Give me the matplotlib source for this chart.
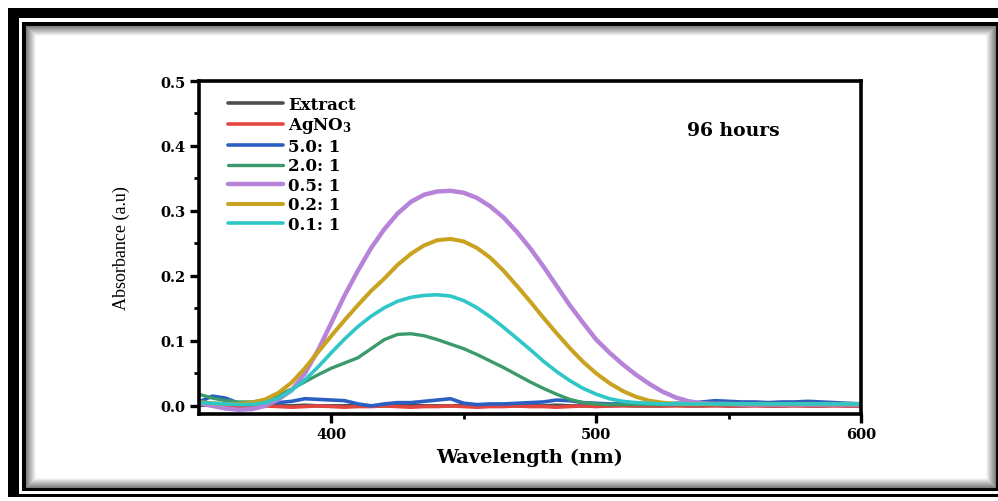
import matplotlib
matplotlib.use("Agg")
import matplotlib.pyplot as plt
from matplotlib.patches import Rectangle
import numpy as np

# wavelength grid (nm) and absorbance readings per sample
wavelength = np.arange(350, 601, 5)

extract = [0.001, 0.001, 0.000, 0.000, 0.000, 0.001, 0.000, 0.000, 0.001, 0.000, 0.000,
           0.000, 0.001, 0.000, 0.000, 0.000, 0.001, 0.000, 0.000, 0.000, 0.001,
           0.000, 0.000, 0.001, 0.000, 0.000, 0.000, 0.001, 0.000, 0.000, 0.000,
           0.000, 0.001, 0.000, 0.000, 0.000, 0.001, 0.000, 0.000, 0.001, 0.000,
           0.000, 0.001, 0.000, 0.000, 0.001, 0.000, 0.000, 0.001, 0.000, 0.000]
agno3 = [0.003, 0.001, 0.000, -0.001, -0.001, 0.000, -0.001, -0.002, -0.001, 0.000, -0.001,
         -0.002, -0.001, -0.001, 0.000, -0.001, -0.002, -0.001, -0.001, 0.000, -0.001,
         -0.002, -0.001, -0.001, 0.000, -0.001, -0.001, -0.002, -0.001, 0.000, -0.001,
         0.000, 0.000, 0.000, 0.000, 0.000, 0.000, 0.000, 0.000, 0.000, 0.000,
         0.000, 0.000, 0.000, 0.000, 0.000, 0.000, 0.000, 0.000, 0.000, 0.000]
r50 = [0.006, 0.015, 0.012, 0.004, 0.004, 0.006, 0.005, 0.007, 0.011, 0.010, 0.009,
       0.008, 0.003, 0.000, 0.003, 0.005, 0.005, 0.007, 0.009, 0.011, 0.004,
       0.002, 0.003, 0.003, 0.004, 0.005, 0.006, 0.009, 0.008, 0.005, 0.004,
       0.003, 0.003, 0.004, 0.003, 0.003, 0.004, 0.004, 0.006, 0.008, 0.007,
       0.006, 0.006, 0.005, 0.006, 0.006, 0.007, 0.006, 0.005, 0.004, 0.003]
r20 = [0.018, 0.012, 0.008, 0.006, 0.006, 0.009, 0.016, 0.026, 0.037, 0.048, 0.058,
       0.066, 0.074, 0.088, 0.102, 0.110, 0.111, 0.108, 0.102, 0.095, 0.088,
       0.079, 0.069, 0.059, 0.048, 0.037, 0.027, 0.018, 0.010, 0.005, 0.003,
       0.002, 0.002, 0.002, 0.002, 0.002, 0.002, 0.002, 0.002, 0.002, 0.002,
       0.002, 0.002, 0.002, 0.002, 0.002, 0.002, 0.002, 0.002, 0.002, 0.002]
r05 = [0.004, 0.000, -0.004, -0.006, -0.005, 0.000, 0.010, 0.024, 0.050, 0.086, 0.128,
       0.170, 0.208, 0.243, 0.272, 0.296, 0.314, 0.325, 0.330, 0.331, 0.328,
       0.320, 0.307, 0.290, 0.268, 0.243, 0.215, 0.185, 0.155, 0.128, 0.102,
       0.082, 0.064, 0.048, 0.034, 0.022, 0.013, 0.007, 0.004, 0.003, 0.003,
       0.002, 0.002, 0.002, 0.002, 0.002, 0.002, 0.002, 0.002, 0.002, 0.002]
r02 = [0.006, 0.004, 0.003, 0.003, 0.005, 0.010, 0.020, 0.036, 0.058, 0.083, 0.108,
       0.132, 0.155, 0.177, 0.196, 0.217, 0.234, 0.247, 0.255, 0.257, 0.253,
       0.243, 0.228, 0.208, 0.185, 0.161, 0.136, 0.112, 0.089, 0.068, 0.050,
       0.035, 0.023, 0.014, 0.008, 0.005, 0.003, 0.003, 0.003, 0.003, 0.003,
       0.003, 0.003, 0.003, 0.003, 0.003, 0.003, 0.003, 0.003, 0.003, 0.003]
r01 = [0.005, 0.004, 0.003, 0.002, 0.002, 0.005, 0.012, 0.024, 0.040, 0.060, 0.082,
       0.103, 0.122, 0.138, 0.151, 0.161, 0.167, 0.170, 0.171, 0.169, 0.162,
       0.151, 0.137, 0.121, 0.104, 0.087, 0.069, 0.053, 0.039, 0.027, 0.018,
       0.011, 0.007, 0.005, 0.004, 0.003, 0.003, 0.003, 0.003, 0.003, 0.003,
       0.003, 0.003, 0.003, 0.003, 0.003, 0.003, 0.003, 0.003, 0.003, 0.003]

labels = ["Extract", r"AgNO$_\mathbf{3}$", "5.0: 1", "2.0: 1", "0.5: 1", "0.2: 1", "0.1: 1"]
series = [extract, agno3, r50, r20, r05, r02, r01]
colors = ["#4d4d4d", "#e2463f", "#2b5fc2", "#3b9a6b", "#b683d9", "#c9a21f", "#2ec6c6"]
widths = [2.6, 2.6, 2.6, 2.4, 3.2, 2.9, 2.6]

plt.rcParams['mathtext.fontset'] = 'dejavuserif'

W, H = 998, 502
fig = plt.figure(figsize=(W / 100, H / 100), dpi=100)
fig.patch.set_facecolor("white")


def px_rect(x0, y0, x1, y1, **kw):
    # rectangle given in top-down pixel coordinates, kept behind the axes
    return Rectangle((x0 / W, 1 - y1 / H), (x1 - x0) / W, (y1 - y0) / H,
                     transform=fig.transFigure, zorder=-10, **kw)


# outer black band + inner framed panel with soft shadow
fig.patches.append(px_rect(8, 9, 1000, 498, facecolor="black", edgecolor="none"))
fig.patches.append(px_rect(19, 19, 1000, 495, facecolor="white", edgecolor="none"))
fig.patches.append(px_rect(22, 23, 998, 492, facecolor="black", edgecolor="none"))
fig.patches.append(px_rect(26, 27, 995, 488, facecolor="white", edgecolor="none"))
for i in range(10):
    g = 0.5 + 0.052 * i
    fig.patches.append(px_rect(26 + i, 27 + i, 995 - i, 488 - i, facecolor="none",
                               edgecolor=(g, g, g), linewidth=0.8))

ax = fig.add_axes([199 / W, 1 - 415 / H, (861 - 199) / W, (415 - 82) / H])
ax.set_facecolor("white")

for y, lab, c, lw in zip(series, labels, colors, widths):
    ax.plot(wavelength, y, color=c, lw=lw, label=lab, solid_capstyle='round')

ax.set_xlim(350, 600)
ax.set_ylim(-0.0125, 0.5)
ax.set_xticks([400, 500, 600])
ax.set_xticks([450, 550], minor=True)
ax.set_yticks([0.0, 0.1, 0.2, 0.3, 0.4, 0.5])
ax.set_yticks([0.05, 0.15, 0.25, 0.35, 0.45], minor=True)
ax.set_yticklabels(["0.0", "0.1", "0.2", "0.3", "0.4", "0.5"])

for s in ax.spines.values():
    s.set_linewidth(2.6)
ax.tick_params(which='major', direction='out', length=6.5, width=2.4, top=False, right=False)
ax.tick_params(which='minor', direction='out', length=3.5, width=2.0, top=False, right=False)
ax.tick_params(axis='y', pad=3)
ax.tick_params(axis='x', pad=3)

for t in ax.get_xticklabels() + ax.get_yticklabels():
    t.set_fontfamily('DejaVu Serif')
    t.set_fontweight('bold')
    t.set_fontsize(10.5)

ax.set_xlabel("Wavelength (nm)", family='DejaVu Serif', weight='bold', fontsize=14, labelpad=5)
ax.set_ylabel("Absorbance (a.u)", family='Liberation Serif', fontsize=13, labelpad=22)

ax.text(0.807, 0.853, "96 hours", transform=ax.transAxes, ha='center', va='center',
        family='DejaVu Serif', weight='bold', fontsize=13.5)

leg = ax.legend(loc='upper left', bbox_to_anchor=(0.044, 0.955), frameon=False,
                borderaxespad=0, borderpad=0, handlelength=3.3, handletextpad=0.3,
                labelspacing=0.15, prop=dict(family='DejaVu Serif', weight='bold', size=12))

fig.savefig("out.png", dpi=100)
